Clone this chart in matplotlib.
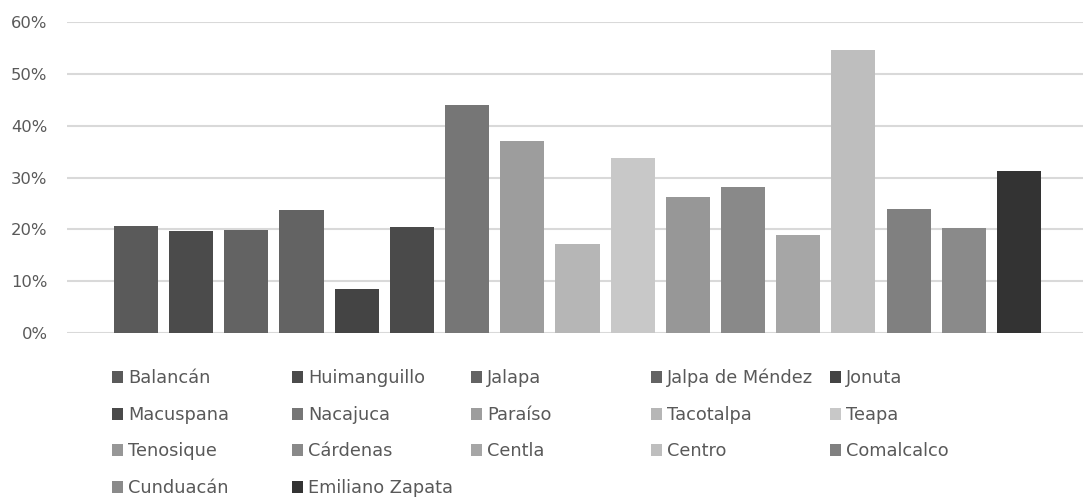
import matplotlib
matplotlib.use("Agg")
import matplotlib.pyplot as plt
from matplotlib.ticker import FuncFormatter

categories = ["Balancán", "Huimanguillo", "Jalapa", "Jalpa de Méndez", "Jonuta",
              "Macuspana", "Nacajuca", "Paraíso", "Tacotalpa", "Teapa",
              "Tenosique", "Cárdenas", "Centla", "Centro", "Comalcalco",
              "Cunduacán", "Emiliano Zapata"]
values = [20.7, 19.7, 19.9, 23.8, 8.5,
          20.5, 44.1, 37.1, 17.2, 33.8,
          26.3, 28.2, 18.9, 54.7, 24.0,
          20.3, 31.3]
colors = ["#5a5a5a", "#4b4b4b", "#636363", "#636363", "#444444",
          "#4a4a4a", "#767676", "#9d9d9d", "#b6b6b6", "#c8c8c8",
          "#979797", "#898989", "#a6a6a6", "#bebebe", "#808080",
          "#8a8a8a", "#333333"]
yticks = [0, 10, 20, 30, 40, 50, 60]

plt.rcParams['font.family'] = ['DejaVu Sans']
W, H = 1083, 498
fig = plt.figure(figsize=(W / 100, H / 100), dpi=100)
ax = fig.add_axes([67 / W, 1 - 333 / H, (1083 - 67) / W, (333 - 22.3) / H])

handles = []
for i, (c, v, col) in enumerate(zip(categories, values, colors)):
    b = ax.bar(i, v, width=0.8, color=col, label=c, zorder=3)
    handles.append(b)

ax.set_ylim(0, 60)
ax.set_xlim(-1.25, 17.16)
ax.set_yticks(yticks)
ax.yaxis.set_major_formatter(FuncFormatter(lambda v, p: f"{v:.0f}%"))
ax.set_xticks([])
ax.grid(axis='y', color='#d9d9d9', linewidth=1.5, zorder=0)
ax.tick_params(axis='y', length=0, pad=14, labelsize=11.8, labelcolor='#595959')
for s in ax.spines.values():
    s.set_visible(False)

# legend: 5 uniform columns, one legend per entry for exact grid alignment
ncol = 5
col_x = [112, 292, 471, 651, 830]
row_y = [378, 415, 451, 488]
for k, (h, lab) in enumerate(zip(handles, categories)):
    r, c = divmod(k, ncol)
    fig.legend([h], [lab], loc='center left',
               bbox_to_anchor=(col_x[c] / W, 1 - row_y[r] / H),
               frameon=False, fontsize=12.8, labelcolor='#595959',
               handlelength=0.62, handleheight=0.62, handletextpad=0.3,
               borderpad=0, borderaxespad=0)

fig.savefig("out.png", dpi=100)
